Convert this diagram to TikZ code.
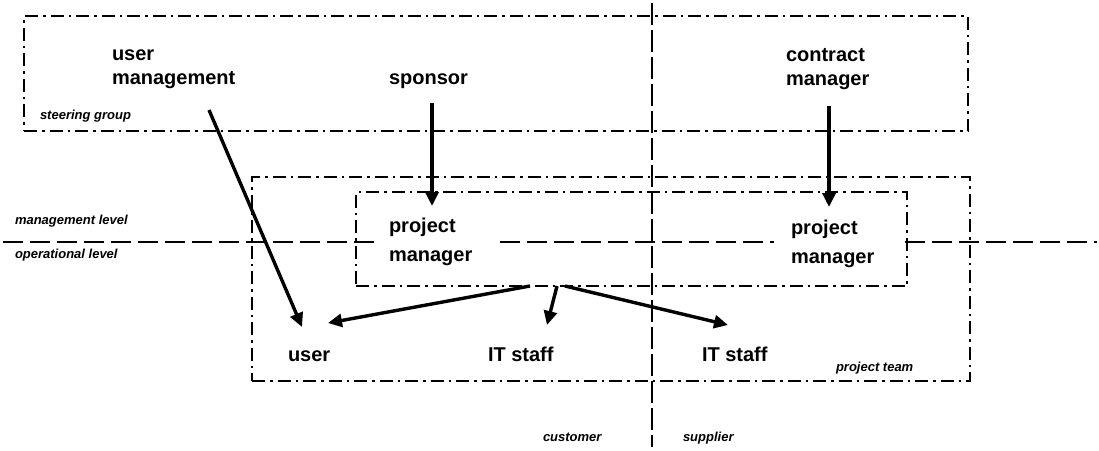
\documentclass[tikz,border=0pt]{standalone}
\usepackage{fontspec}
\setmainfont{Liberation Sans}
\usetikzlibrary{arrows.meta}

\tikzset{
  role/.style={inner sep=0pt, outer sep=0pt, anchor=base west, align=left,
               font=\fontsize{20}{24}\selectfont\bfseries},
  rolewide/.style={role, font=\fontsize{20}{28.5}\selectfont\bfseries},
  tag/.style={inner sep=0pt, outer sep=0pt, anchor=base west,
              font=\fontsize{13}{15}\selectfont\bfseries\itshape},
  group/.style={draw, line width=2.8pt, inner sep=0pt, outer sep=0pt,
                dash pattern=on 13pt off 5pt on 2.5pt off 5pt},
  split/.style={line width=2.6pt, dash pattern=on 22pt off 5pt},
  levelline/.style={line width=2.8pt, dash pattern=on 20pt off 7pt},
  flow/.style={line width=3.4pt, -{Triangle[length=14pt,width=13pt]}}
}

\begin{document}
\begin{tikzpicture}[x=1pt, y=-1pt]
  \useasboundingbox (0,0) rectangle (1099,450);

  % group boundaries
  \node[group, minimum width=944pt, minimum height=115pt] (sg) at (496,73.5) {};
  \node[group, minimum width=718pt, minimum height=204pt] (pt) at (611,279) {};
  \node[group, minimum width=551pt, minimum height=94pt] (pmbox) at (631.5,239) {};

  % customer / supplier divide
  \coordinate (vtop) at (652,3);
  \coordinate (vbot) at (652,447);
  \draw[split] (vtop) -- (vbot);

  % management / operational divide
  \coordinate (h1) at (3,242);
  \coordinate (h2) at (379,242);
  \coordinate (h3) at (500,242);
  \coordinate (h4) at (774,242);
  \coordinate (h5) at (905,242);
  \coordinate (h6) at (1097,242);
  \draw[levelline] (h1) -- (h2);
  \draw[levelline] (h3) -- (h4);
  \draw[levelline] (h5) -- (h6);

  % roles (multi-line nodes sit on the baseline of their last line)
  \node[role] (um) at (112,84) {user\\management};
  \node[role] (sp) at (389,84) {sponsor};
  \node[role] (cm) at (786,85) {contract\\manager};
  \node[rolewide] (pmL) at (389,261) {project\\manager};
  \node[rolewide] (pmR) at (791,263) {project\\manager};
  \node[role] (usr) at (288,361) {user};
  \node[role] (it1) at (488,361) {IT staff};
  \node[role] (it2) at (702,361) {IT staff};

  % labels
  \node[tag] (lsg) at (40,119) {steering group};
  \node[tag] (lml) at (15,224) {management level};
  \node[tag] (lol) at (15,258) {operational level};
  \node[tag] (lpt) at (836,371) {project team};
  \node[tag] (lcu) at (543,441) {customer};
  \node[tag] (lsu) at (683,441) {supplier};

  % reporting lines
  \draw[flow] ([shift={(97,26)}]um.base west) -- ([shift={(14,-34)}]usr.base west);
  \draw[flow] ([shift={(43,19)}]sp.base west) -- ([shift={(43,-55)}]pmL.base west);
  \draw[flow] ([shift={(43,21)}]cm.base west) -- ([shift={(38,-56)}]pmR.base west);
  \draw[flow] ([xshift=-101.5pt]pmbox.south) -- ([shift={(40,-38)}]usr.base west);
  \draw[flow] ([xshift=-74.5pt]pmbox.south) -- ([shift={(59,-36)}]it1.base west);
  \draw[flow] ([xshift=-66.5pt]pmbox.south) -- ([shift={(26,-36)}]it2.base west);
\end{tikzpicture}
\end{document}
